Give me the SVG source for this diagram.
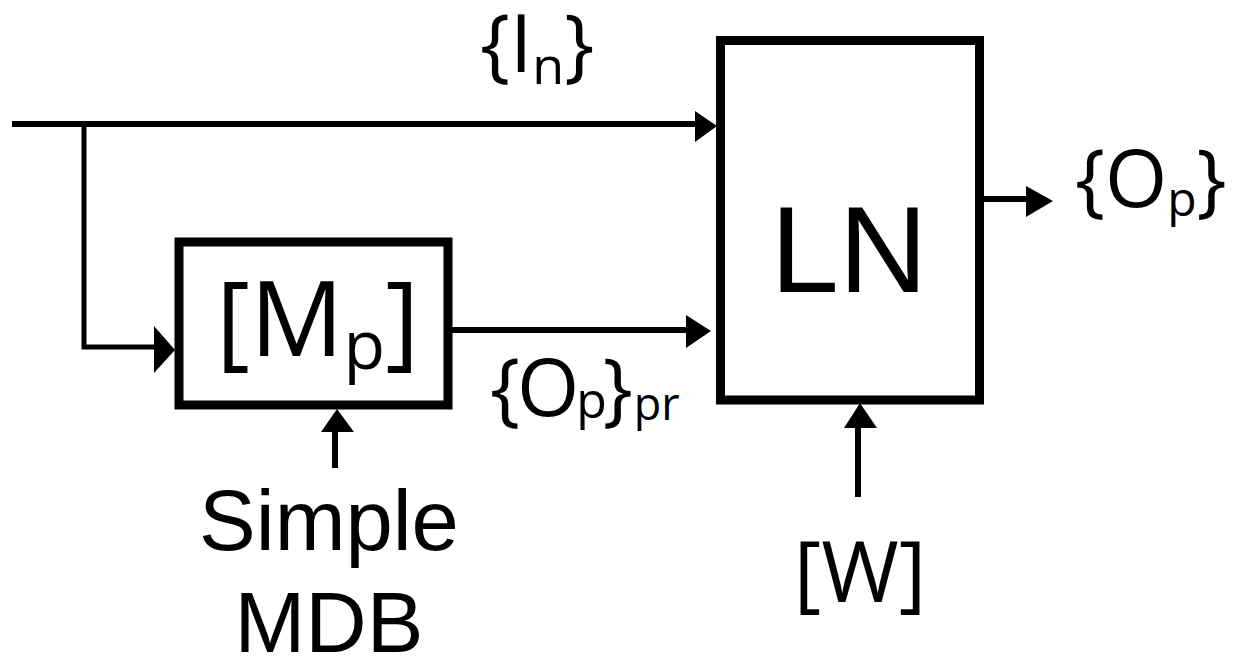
<svg xmlns="http://www.w3.org/2000/svg" width="1234" height="657" viewBox="0 0 1234 657">
<style>
.box{fill:#fff;stroke:#000;stroke-width:9}
.ln{fill:none;stroke:#000;stroke-width:6}
.thin{fill:none;stroke:#000;stroke-width:5}
.head{fill:#000;stroke:none}
.os{font-family:"Open Sans","DejaVu Sans",sans-serif;fill:#000}
.ar{font-family:"Liberation Sans",Arial,sans-serif;fill:#000}
</style>
<rect width="1234" height="657" fill="#fff"/>
<g id="connectors">
<line class="ln" x1="12" y1="124" x2="698" y2="124"/>
<polygon class="head" points="695,111 717,126 695,142"/>
<polyline class="thin" points="84,124 84,347 157,347"/>
<polygon class="head" points="154,326 175,350 154,373"/>
<line class="ln" x1="452" y1="330" x2="689" y2="330"/>
<polygon class="head" points="686,315 711,331 686,348"/>
<line class="ln" x1="983" y1="199" x2="1028" y2="199"/>
<polygon class="head" points="1026,186 1053,201 1026,217"/>
<line class="ln" x1="858" y1="497" x2="858" y2="426"/>
<polygon class="head" points="844,428 860,403 877,428"/>
<line class="ln" x1="335" y1="468" x2="335" y2="430"/>
<polygon class="head" points="321,432 337,409 354,432"/>
</g>
<g id="node-mp">
<rect class="box" x="179" y="242" width="269" height="163"/>
<text class="os" x="216" y="356" font-size="104">[M<tspan font-size="68" dy="13">p</tspan><tspan dy="-13">]</tspan></text>
</g>
<g id="node-ln">
<rect class="box" x="720.5" y="40.5" width="259" height="359.5"/>
<text class="ar" x="849" y="292" font-size="123" text-anchor="middle">LN</text>
</g>
<g id="label-in">
<text class="os" x="480" y="72" font-size="80">{I<tspan font-size="52" dy="12">n</tspan><tspan dy="-12">}</tspan></text>
</g>
<g id="label-op">
<text class="os" x="1075" y="207" font-size="80">{O<tspan font-size="48" dy="9">p</tspan><tspan dy="-9">}</tspan></text>
</g>
<g id="label-oppr">
<text class="os" x="490" y="416" font-size="80">{<tspan dx="-3">O</tspan><tspan font-size="50" dx="-3" dy="2">p</tspan><tspan dx="-4" dy="-2">}</tspan><tspan font-size="45" dx="1" dy="4">pr</tspan></text>
</g>
<g id="label-w">
<text class="os" x="860" y="602" font-size="84" text-anchor="middle">[W]</text>
</g>
<g id="label-mdb">
<text class="ar" x="329" y="550" font-size="85" text-anchor="middle">Simple</text>
<text class="ar" x="329" y="652" font-size="85" text-anchor="middle">MDB</text>
</g>
</svg>
